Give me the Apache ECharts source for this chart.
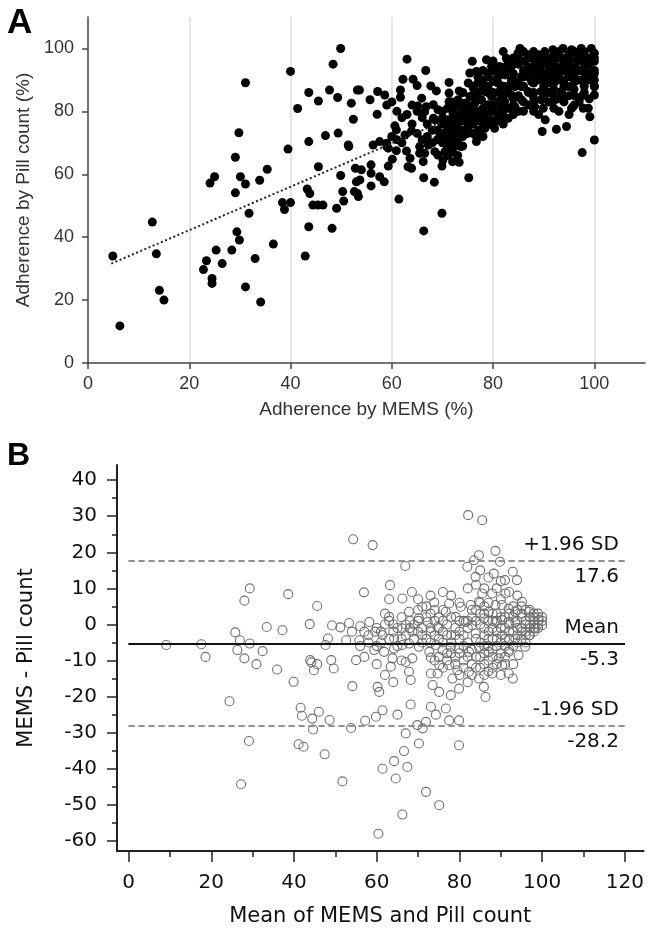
<!DOCTYPE html>
<html><head><meta charset="utf-8">
<script src="https://cdn.jsdelivr.net/npm/echarts@6/dist/echarts.min.js"></script>
<style>html,body{margin:0;padding:0;background:#fff}#c{width:647px;height:929px}</style>
</head><body><div id="c"></div>
<script>
// Panel A: [Adherence by MEMS, Adherence by Pill count]
const pointsA = [
[4.9,34.0],[6.3,11.8],[12.7,44.8],[13.5,34.7],[14.1,23.1],[15.0,20.0],[22.8,29.7],[23.4,32.5],[24.5,26.9],[24.5,25.3],
[24.1,57.2],[25.0,59.2],[25.3,35.9],[26.5,31.6],[28.4,35.9],[29.1,65.4],[29.1,54.1],[29.4,41.7],[29.9,39.1],[29.8,73.2],
[30.1,59.2],[31.1,89.1],[31.1,56.9],[31.1,24.2],[31.8,47.6],[33.0,33.2],[33.9,58.1],[34.1,19.4],[35.4,61.6],[36.6,37.8],
[38.4,51.0],[38.8,48.8],[40.0,51.0],[39.5,68.0],[40.0,92.7],[41.4,80.9],[42.9,34.0],[43.3,55.3],[43.8,53.9],[43.6,70.4],
[43.6,43.3],[43.6,86.0],[44.4,50.2],[45.4,50.2],[46.4,50.2],[45.5,83.3],[45.5,62.4],[46.9,72.3],[47.7,86.8],[48.2,42.8],
[48.4,95.0],[49.3,84.4],[49.4,73.1],[49.1,49.2],[49.9,100.0],[49.9,59.6],[50.3,54.5],[50.5,51.5],[51.4,69.3],[51.5,68.8],
[52.0,82.6],[52.4,77.5],[52.8,61.9],[53.0,57.6],[52.6,54.5],[53.2,86.8],
[53.6,86.8],[55.7,83.7],[57.2,86.3],[58.6,85.2],[57.1,79.1],[63.0,96.6],[66.7,93.0],[62.2,90.2],[61.7,86.8],[61.7,84.5],
[64.2,90.2],[65.0,88.2],[65.9,84.2],[65.1,81.7],[66.5,79.9],[67.7,88.1],[68.8,86.5],[68.2,82.1],[69.1,80.5],[71.3,89.2],
[71.3,85.8],[71.3,83.1],[73.3,86.5],[60.6,75.4],[60.9,74.1],[62.6,72.5],[63.9,73.8],[68.2,77.8],[56.3,69.3],[57.6,70.4],
[59.0,69.9],[59.3,68.3],[59.0,68.8],[54.0,61.4],[53.7,58.2],[53.2,53.9],[53.4,52.9],[55.9,63.0],[55.9,60.3],[55.9,56.3],
[57.6,59.2],[58.5,57.6],[59.3,62.6],[60.1,64.8],[60.9,67.5],[62.9,67.4],[63.6,65.1],[63.2,62.4],[63.9,61.9],[61.4,52.1],
[65.5,68.8],[65.5,66.7],[66.2,64.0],[66.5,66.7],[67.2,69.3],[68.5,67.2],[69.1,66.1],[69.9,62.6],[66.3,58.9],[68.4,57.5],
[69.9,47.6],[66.3,42.0],[70.5,69.9],[71.1,72.5],[71.8,75.2],[72.4,77.3],[73.1,78.9],[73.8,79.9],[73.6,68.8],[73.3,63.8],
[75.2,58.9],[76.5,72.5],[76.7,70.4],[78.4,74.6],[80.3,74.6],[74.4,82.6],[75.4,84.7],[76.1,87.4],[75.9,95.9],[76.7,92.7],
[78.7,96.4],[79.0,92.1],[80.3,89.5],[81.6,87.4],[82.6,96.9],[83.6,94.3],[84.9,98.5],[85.3,100],[86.9,98.0],[88.2,95.9],
[89.2,93.7],[90.2,99.0],[91.8,99.6],[93.8,100],[95.5,99.6],[97.4,100],[99.4,100],[100,98.5],[100,95.9],[100,87.9],
[100,85.2],[100,70.9],[97.6,66.9],[99.1,78.3],[98.8,81.0],[97.8,81.0],[97.4,84.7],[95.8,81.5],[95.5,81.0],[94.5,75.2],
[92.5,74.3],[90.3,77.3],[89.7,73.6],[89.9,81.0],[88.2,81.5],[82.0,78.3],[83.0,77.8],[80.3,79.9],[79.0,82.1],[77.7,83.7],
[76.1,80.5],[76.7,78.3],[72.4,74.1],[71.1,71.0],[70.5,67.2],[70.1,64.5],[72.4,68.8],[73.1,72.0],[75.1,75.2],[92.2,83.7],
[93.5,86.3],[94.8,87.9],[96.1,89.5],[98.1,92.1],[98.8,94.9],[92.8,90.7],[90.9,89.0],[89.5,86.3],[86.9,86.3],[85.6,83.7],
[84.3,81.5],[83.6,85.2],[82.3,83.1],[81.0,83.1],[79.7,84.7],[78.4,86.3],[77.0,89.0],[78.0,90.0],[81.0,91.1],[82.3,91.6],
[83.6,90.0],[85.6,91.1],[86.9,92.7],[87.6,89.5],[88.6,91.1],[90.9,95.3],[92.2,96.4],[93.5,94.3],[94.8,96.4],[96.1,94.3],
[96.8,97.5],[98.1,97.5],[94.8,92.1],[92.2,93.3],[86.3,95.9],[84.3,95.3],[81.3,94.3],[79.7,94.3],[75.1,89.0],[75.4,92.2],
[73.8,77.3],[74.4,78.3],[71.1,77.3],[72.1,79.4],[69.5,72.0],[69.8,76.2],[68.5,77.3],[66.8,81.5],[84.3,87.9],[85.6,87.9],
[89.5,83.7],[87.9,84.7],[81.6,81.0],[79.7,81.0],[78.4,79.4],[75.7,78.3],[76.4,82.6],[73.8,82.1],[73.1,83.7],[72.4,81.5],
[88,97],[89,96],[90,97],[91,95],[92,98],[93,97],[94,95],[95,97],[96,96],[97,98],[98,96],[99,97],[100,93],[99,92],[97,90],
[95,91],[93,92],[91,91],[89,92],[87,94],[85,95],[83,93],[81,94],[80,90],[82,88],[84,90],[86,91],[88,89],[90,88],[92,89],
[94,88],[96,87],[98,88],[100,90],[91,86],[93,84],[95,85],[87,86],[85,85],[83,86],[81,86],[79,88],[77,86],[76,85],[78,81],
[80,82],[82,80],[84,79],[86,80],[88,83],[90,84],[92,81],[94,83],[96,82],[74,80],[72,83],[70,78],[71,75],[72,72],[73,70],
[74,74],[75,76],[76,73],[77,77],[78,76],[79,78],[80,77],[81,79],[73,66],[72,64],[71,69],[70,73],[69,71],[68,74],[67,76],
[66,78],[65,80],[64,82],[63,79],
[85,97],[86,99],[87,97],[88,99],[89,98],[90,95],[91,97],[92,95],[93,99],[94,97],[95,98],[96,99],[97,96],[98,99],[99,95],[100,97],
[86,93],[87,91],[88,93],[89,90],[90,92],[91,93],[92,91],[93,90],[94,93],[95,94],[96,92],[97,93],[98,94],[99,90],[100,92],
[84,92],[83,96],[82,94],[81,92],[80,93],[79,91],[78,93],[77,91],[80,96],[82,99],[84,97],[86,96],[88,94],[90,90],[92,87],
[94,90],[96,90],[98,90],[100,88],[85,89],[83,88],[81,89],[79,86],[77,84],[75,82],[74,86],[76,88],[78,88],[80,86],[82,85],
[84,84],[86,88],[88,86],[90,86],[92,85],[94,85],[96,85],[98,86],[99,84],[70,80],[71,81],[72,78],[73,76],[74,77],[75,80],
[76,77],[77,80],[78,78],[79,76],[80,80],[81,77],[82,76],[83,81],[84,82],[85,80],[86,83],[87,82],[88,80],[89,79],[91,83],
[93,80],[95,79],[97,83],[69,74],[70,76],[71,73],[72,70],[73,73],[74,72],[75,73],[76,76],[77,74],[78,72],[74,69],[72,67],
[71,66],[70,70],[68,70],[67,72],[66,71],[65,73],[64,76],[62,78],[61,80],[60,83],[59,82],[62,70],[61,71],[60,72]
];
// Regression line end points
const trendX = [4.6, 69.5];
const trendY = [31.6, 76.4];
const ticksA = [0, 20, 40, 60, 80, 100];

// Panel B: [Mean of MEMS and Pill count, MEMS - Pill count]
const pointsB = [
[9.1,-5.7],[17.6,-5.5],[18.6,-9.0],[24.4,-21.3],[25.8,-2.2],[26.9,-4.4],[26.3,-7.1],[28.0,-9.4],[28.0,6.6],[29.3,10.0],
[29.3,-5.3],[29.1,-32.3],[27.2,-44.3],[30.9,-11.0],[32.4,-7.4],[33.4,-0.7],[35.9,-12.5],[37.2,-1.6],[38.6,8.4],[39.9,-15.9],
[41.6,-23.1],[41.9,-25.3],[41.1,-33.2],[42.3,-33.9],[43.8,0.1],[45.6,5.1],[43.9,-9.9],[44.2,-10.5],[44.8,-12.7],[45.6,-11.0],
[44.4,-26.1],[46.0,-24.2],[44.6,-29.1],[47.4,-36.0],[47.6,-5.7],[48.2,-3.9],[48.6,-26.5],[49.2,-0.3],[49.0,-9.9],[49.6,-12.2],
[51.2,-0.8],[51.7,-43.5],[52.6,-4.4],[53.3,0.4],[54.0,-2.0],[54.1,-17.1],[55.0,-9.9],[53.8,-28.7],[56.0,-0.5],[55.8,-4.4],
[56.9,8.9],[57.2,-26.7],[54.3,23.6],[59.0,22.0],
[66.9,16.2],[82.1,30.3],[85.5,28.9],[88.7,20.4],[84.7,19.2],[83.5,17.8],[81.9,16.0],[89.8,17.4],[88.3,14.1],[83.9,13.2],
[92.9,14.6],[93.9,12.3],[91.0,12.3],[63.2,10.9],[63.0,7.0],[66.2,7.2],[68.5,9.0],[85.5,8.6],[87.9,8.6],[91.1,8.6],
[77.5,5.8],[73.9,6.1],[71.0,4.9],[67.8,3.5],[63.0,2.1],[58.2,0.7],[59.6,-2.0],[61.4,-3.0],[64.2,-3.9],[66.2,-1.1],
[68.6,-2.0],[70.2,1.7],[72.3,0.7],[73.1,-2.0],[74.7,-0.7],[76.7,3.5],[79.1,2.1],[80.3,4.9],[82.7,5.4],[84.7,6.3],
[81.5,0.7],[83.1,-0.2],[83.9,-2.5],[85.9,1.7],[87.1,3.5],[88.7,5.4],[90.3,5.4],[91.9,4.4],[93.5,3.5],[95.1,6.3],
[96.8,3.5],[97.9,2.1],[99.2,1.2],[100,-0.2],[98.4,-1.1],[96.8,-3.0],[95.1,-2.0],[93.5,0.7],[91.9,0.7],[90.3,1.2],
[88.7,0.7],[87.1,-2.0],[90.3,-3.0],[93.5,-3.9],[95.9,-6.2],[94.3,-8.5],[91.9,-7.6],[89.5,-9.4],[87.1,-7.6],[84.7,-6.2],
[82.3,-7.6],[79.9,-6.7],[77.9,-6.2],[75.9,-7.1],[74.3,-5.7],[72.7,-7.6],[70.2,-6.2],[67.8,-5.3],[66.2,-5.7],[64.2,-6.7],
[61.8,-7.6],[59.4,-7.1],[63.8,-9.4],[67.0,-10.4],[68.6,-9.4],[63.4,-11.7],[67.8,-13.1],[68.2,-15.4],[73.1,-9.2],[75.1,-11.3],
[73.1,-13.6],[74.7,-13.6],[77.5,-11.3],[79.5,-12.7],[78.3,-15.0],[79.9,-17.8],[82.3,-13.1],[84.7,-15.0],[85.9,-17.3],[86.3,-20.1],
[87.9,-13.6],[90.3,-11.3],[91.9,-13.6],[92.9,-15.0],[73.5,-16.8],[75.1,-18.7],[77.9,-19.6],[60.2,-17.3],[60.6,-18.7],[61.4,-23.8],
[59.8,-25.6],[65.0,-25.0],[68.2,-22.2],[73.1,-22.8],[74.3,-25.0],[76.7,-23.3],[77.5,-26.6],[79.9,-26.6],[69.8,-27.9],[71.9,-27.0],
[71.1,-28.8],[67.0,-30.2],[70.2,-33.0],[79.9,-33.5],[66.6,-35.1],[67.4,-39.5],[64.2,-37.9],[61.4,-40.0],[64.6,-42.7],[71.9,-46.4],
[75.1,-50.1],[66.2,-52.7],[60.4,-58.0],
[86,-3],[88,-4],[90,-5],[92,-2],[94,-1],[96,0],[98,1],[97,-1],[95,2],[93,2],[91,-1],[89,-2],[87,1],[85,3],[83,2],[81,-3],
[79,-1],[77,0],[75,2],[73,3],[71,-1],[69,0],[67,-3],[65,-1],[63,-4],[61,-2],[89,-6],[91,-9],[93,-11],[87,-10],[85,-9],
[83,-11],[81,-10],[79,-9],[77,-8],[75,-4],[73,-5],[71,-3],[69,-4],[84,-4],[86,-6],[82,-5],[80,-4],[78,-3],[76,-2],[94,-5],
[96,-3],[92,-7],[88,-12],[86,-14],[84,-12],[82,-16],[80,-14],[98,-2],[99,0],[100,2],[97,4],[95,5],[99,3],[96,-5],[90,2],
[88,3],[86,5],[84,4],[82,1],[80,1],[78,2],[76,4],[74,1],[72,2],[70,4],[68,1],[66,2],[64,0],[62,0],[60,-1],[58,-3],[56,-6],
[57,-9],[60,-11],[62,-14],[64,-16],[66,-10],
[85,0],[86,-1],[87,-4],[88,-1],[89,1],[90,-1],[91,-4],[92,0],[93,-2],[94,1],[95,-1],[96,1],[97,0],[98,-1],[99,-1],[100,1],
[85,-5],[86,-8],[87,-6],[88,-7],[89,-4],[90,-8],[91,-6],[92,-4],[93,-6],[94,-3],[95,-4],[96,-2],[97,-3],[98,0],[99,2],
[80,-8],[81,-6],[82,-9],[83,-7],[84,-9],[85,-12],[86,-11],[87,-13],[88,-9],[89,-11],[90,-14],[91,-11],[83,-14],[81,-12],
[79,-11],[78,-8],[77,-10],[76,-12],[75,-9],[74,-10],[80,-2],[81,1],[82,-1],[83,4],[84,1],[85,6],[86,3],[87,6],[88,1],
[89,3],[90,7],[91,2],[92,3],[93,5],[94,4],[95,3],[96,4],[97,2],[98,3],[70,-2],[71,-5],[72,-4],[73,-1],[74,-3],
[75,-1],[76,-5],[77,-3],[78,-5],[79,-3],[76,1],[74,4],[72,5],[70,1],[68,-1],[67,0],[66,-4],[65,-6],[64,-2],[63,1],[62,3],
[61,-5],[60,-6],[58,-5],[57,-2],[80,6],[78,8],[76,9],[73,8],[70,7],[82,10],[84,11],[86,10],[89,10],[92,9],[94,8],[85,15],
[87,13],[90,12]
];
const limitValues = [17.6, -5.3, -28.2];
const limitNames = ['+1.96 SD', 'Mean', '-1.96 SD'];
const limitLabels = ['17.6', '-5.3', '-28.2'];
const lineRangeB = [0, 120];
const ticksBx = [0, 20, 40, 60, 80, 100, 120];
const minorBx = [10, 30, 50, 70, 90, 110];
const ticksBy = [-60, -50, -40, -30, -20, -10, 0, 10, 20, 30, 40];
const minorBy = [-55, -45, -35, -25, -15, -5, 5, 15, 25, 35];

const fA = 'Liberation Sans, Arial, sans-serif';
const fB = 'DejaVu Sans, sans-serif';

const chart = echarts.init(document.getElementById('c'), null, {renderer: 'canvas'});

function limitLine(i) {
  const v = limitValues[i];
  const isMean = i === 1;
  const ls = isMean ? {type: 'solid', color: '#111', width: 2} : {type: [6, 4], color: '#8a8a8a', width: 1.5};
  return [
    [{coord: [lineRangeB[0], v], lineStyle: ls, label: {position: 'insideEndTop', formatter: limitNames[i]}},
     {coord: [lineRangeB[1], v]}],
    [{coord: [lineRangeB[0], v], lineStyle: ls, label: {position: 'insideEndBottom', formatter: limitLabels[i]}},
     {coord: [lineRangeB[1], v]}]
  ];
}
const markData = [].concat(limitLine(0), limitLine(1), limitLine(2));

const option = {
  animation: false,
  backgroundColor: '#fff',
  graphic: [
    {type: 'text', left: 7, top: 6, style: {text: 'A', font: 'bold 35px Liberation Sans, Arial', fill: '#000'}},
    {type: 'text', left: 7, top: 440, style: {text: 'B', font: 'bold 32px Liberation Sans, Arial', fill: '#000'}}
  ],
  grid: [
    {left: 88, top: 17, width: 557, height: 346},
    {left: 117, top: 465, width: 528, height: 386}
  ],
  xAxis: [
    {gridIndex: 0, type: 'value', min: 0, max: 110,
     axisLine: {onZero: false, lineStyle: {color: '#444', width: 1.5}},
     axisTick: {customValues: ticksA, length: 6, lineStyle: {color: '#444', width: 1.5}},
     axisLabel: {customValues: ticksA, margin: 12, fontSize: 18, fontFamily: fA, color: '#333'},
     splitLine: {show: true, showMinLine: false, lineStyle: {color: '#dcdcdc', width: 1.5}},
     name: 'Adherence by MEMS (%)', nameLocation: 'middle', nameGap: 37,
     nameTextStyle: {fontSize: 19, fontFamily: fA, color: '#333'}},
    {gridIndex: 1, type: 'value', min: -2.8, max: 124.5, position: 'bottom',
     axisLine: {onZero: false, lineStyle: {color: '#222', width: 2}},
     axisTick: {customValues: ticksBx, length: 11, lineStyle: {color: '#222', width: 1.5}},
     axisLabel: {customValues: ticksBx, margin: 22, fontSize: 20, fontFamily: fB, color: '#111'},
     splitLine: {show: false},
     name: 'Mean of MEMS and Pill count', nameLocation: 'middle', nameGap: 55,
     nameTextStyle: {fontSize: 21, fontFamily: fB, color: '#111'}},
    {gridIndex: 1, type: 'value', min: -2.8, max: 124.5, position: 'bottom',
     axisLine: {show: false, onZero: false},
     axisTick: {customValues: minorBx, length: 6, lineStyle: {color: '#222', width: 1.5}},
     axisLabel: {show: false}, splitLine: {show: false}}
  ],
  yAxis: [
    {gridIndex: 0, type: 'value', min: 0, max: 110,
     axisLine: {show: true, onZero: false, lineStyle: {color: '#444', width: 1.5}},
     axisTick: {show: true, customValues: ticksA, length: 6, lineStyle: {color: '#444', width: 1.5}},
     axisLabel: {customValues: ticksA, margin: 14, fontSize: 18, fontFamily: fA, color: '#333'},
     splitLine: {show: false},
     name: 'Adherence by Pill count (%)', nameLocation: 'middle', nameGap: 52, nameRotate: 90,
     nameTextStyle: {fontSize: 19, fontFamily: fA, color: '#333'}},
    {gridIndex: 1, type: 'value', min: -62.8, max: 44.2, position: 'left',
     axisLine: {show: true, onZero: false, lineStyle: {color: '#222', width: 2}},
     axisTick: {show: true, customValues: ticksBy, length: 10, lineStyle: {color: '#222', width: 1.5}},
     axisLabel: {customValues: ticksBy, margin: 20, fontSize: 20, fontFamily: fB, color: '#111'},
     splitLine: {show: false},
     name: 'MEMS - Pill count', nameLocation: 'middle', nameGap: 80, nameRotate: 90,
     nameTextStyle: {fontSize: 21, fontFamily: fB, color: '#111'}},
    {gridIndex: 1, type: 'value', min: -62.8, max: 44.2, position: 'left',
     axisLine: {show: false, onZero: false},
     axisTick: {show: true, customValues: minorBy, length: 5, lineStyle: {color: '#222', width: 1.5}},
     axisLabel: {show: false}, splitLine: {show: false}}
  ],
  series: [
    {type: 'scatter', xAxisIndex: 0, yAxisIndex: 0, data: pointsA, symbolSize: 9,
     itemStyle: {color: '#000', opacity: 1}, z: 3, silent: true},
    {type: 'line', xAxisIndex: 0, yAxisIndex: 0, data: trendX.map((x, i) => [x, trendY[i]]),
     showSymbol: false, symbol: 'none', z: 4, silent: true,
     lineStyle: {color: '#222', width: 2, type: [2, 2.5]}},
    {type: 'scatter', xAxisIndex: 1, yAxisIndex: 1, data: pointsB, symbolSize: 9,
     itemStyle: {color: 'rgba(0,0,0,0)', borderColor: '#707070', borderWidth: 1.1, opacity: 1}, z: 3, silent: true,
     markLine: {silent: true, symbol: ['none', 'none'], animation: false,
       label: {fontSize: 20, fontFamily: fB, color: '#111', distance: 6},
       data: markData}}
  ]
};
chart.setOption(option);
</script></body></html>
